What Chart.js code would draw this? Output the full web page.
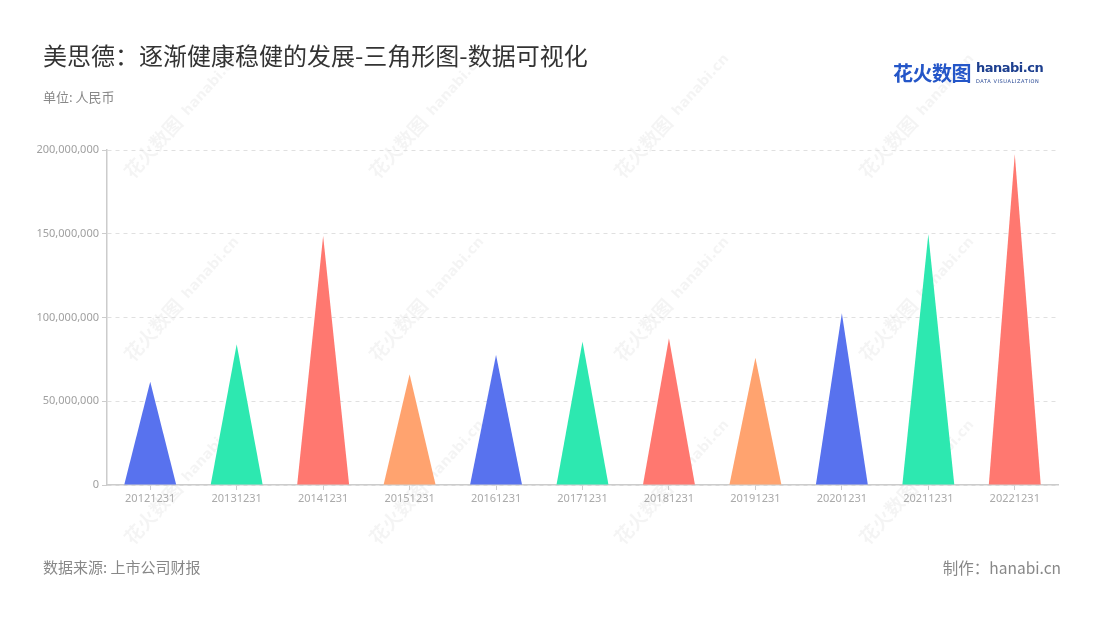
<!DOCTYPE html>
<html>
<head>
<meta charset="utf-8">
<script src="https://cdn.jsdelivr.net/npm/chart.js@4.4.0/dist/chart.umd.min.js"></script>
<style>
  html, body { margin: 0; padding: 0; background: #fff; }
  #wrap { position: relative; width: 1100px; height: 620px; font-family: "Noto Sans CJK SC", "Noto Sans", sans-serif; }
  #chart { position: absolute; left: 0; top: 0; }
  .txt { position: absolute; white-space: nowrap; }
  #title { left: 43px; top: 37px; font-size: 24px; color: #333; }
  #unit { left: 43px; top: 87px; font-size: 13px; color: #888; }
  #source { left: 43px; top: 556px; font-size: 15px; color: #888; }
  #maker { right: 39px; top: 556px; font-size: 15.5px; color: #888; }
  #logo { left: 893px; top: 58px; color: #2456c8; }
  #logo .cn { font-size: 20px; font-weight: bold; letter-spacing: -0.5px; }
  #logo .en { position: absolute; left: 83px; top: 2px; font-family: "DejaVu Sans", sans-serif; font-size: 13px; font-weight: bold; color: #1d3f8f; letter-spacing: -0.5px; }
  #logo .sub { position: absolute; left: 83px; top: 20px; font-family: "DejaVu Sans", sans-serif; font-size: 5px; color: #1d3f8f; letter-spacing: 0.6px; }
</style>
</head>
<body>
<div id="wrap">
  <canvas id="chart" width="1100" height="620"></canvas>
  <div class="txt" id="title">美思德：逐渐健康稳健的发展-三角形图-数据可视化</div>
  <div class="txt" id="unit">单位: 人民币</div>
  <div class="txt" id="logo"><span class="cn">花火数图</span><span class="en">hanabi.cn</span><span class="sub">DATA VISUALIZATION</span></div>
  <div class="txt" id="source">数据来源: 上市公司财报</div>
  <div class="txt" id="maker">制作：hanabi.cn</div>
</div>
<script>
const years = ['20121231', '20131231', '20141231', '20151231', '20161231', '20171231',
               '20181231', '20191231', '20201231', '20211231', '20221231'];
const revenue = [61700000, 84000000, 148700000, 66100000, 77600000, 85600000,
                 87600000, 76000000, 102500000, 149700000, 197400000];
const palette = ['#5872ee', '#2de8b0', '#ff7870', '#ffa36f'];
const yTicks = [0, 50000000, 100000000, 150000000, 200000000];

let barColors = years.map((y, i) => palette[i % palette.length]);

// watermark: faint rotated logo text behind the chart
const watermark = {
  id: 'watermark',
  beforeDraw(chart) {
    let ctx = chart.ctx;
    ctx.save();
    ctx.fillStyle = 'rgba(0,0,0,0.045)';
    for (let col = 0; col < 4; col++) {
      for (let row = 0; row < 3; row++) {
        ctx.save();
        ctx.translate(133 + col * 245, 180 + row * 183);
        ctx.rotate(-48 * Math.PI / 180);
        ctx.font = 'bold 19px "Noto Sans CJK SC"';
        ctx.fillText('花火数图', 0, 0);
        ctx.font = 'bold 14px "DejaVu Sans"';
        ctx.fillText('hanabi.cn', 84, -2);
        ctx.restore();
      }
    }
    ctx.restore();
  }
};

// draw each bar as a triangle with its base on the axis
const triangles = {
  id: 'triangles',
  beforeDatasetDraw(chart, args) {
    let ctx = chart.ctx;
    let meta = args.meta;
    ctx.save();
    meta.data.forEach((bar, i) => {
      let half = bar.width / 2;
      ctx.beginPath();
      ctx.moveTo(bar.x - half, bar.base);
      ctx.lineTo(bar.x, bar.y);
      ctx.lineTo(bar.x + half, bar.base);
      ctx.closePath();
      ctx.fillStyle = barColors[i];
      ctx.fill();
    });
    ctx.restore();
    return false;
  }
};

new Chart(document.getElementById('chart'), {
  type: 'bar',
  data: {
    labels: years,
    datasets: [{
      data: revenue,
      backgroundColor: barColors,
      barPercentage: 0.6,
      categoryPercentage: 1
    }]
  },
  options: {
    responsive: false,
    animation: false,
    layout: { padding: { left: 27, right: 42, top: 150, bottom: 105 } },
    plugins: {
      legend: { display: false },
      tooltip: { enabled: false }
    },
    scales: {
      x: {
        afterFit: (s) => { s.height = 30; },
        grid: { display: true, drawOnChartArea: false, offset: false, tickLength: 5, color: '#cccccc' },
        border: { color: '#cccccc', width: 1.5 },
        ticks: { color: '#aaaaaa', font: { size: 11, family: 'Noto Sans' }, padding: 2, maxRotation: 0 }
      },
      y: {
        min: 0,
        max: 200000000,
        afterFit: (s) => { s.width = 80; },
        afterBuildTicks: (s) => { s.ticks = yTicks.map(v => ({ value: v })); },
        grid: { color: '#e0e0e0', tickLength: 5, tickColor: '#cccccc', tickBorderDash: [] },
        border: { color: '#cccccc', width: 1.5, dash: [4, 4] },
        ticks: {
          color: '#a0a0a0',
          font: { size: 11, family: 'Noto Sans' },
          padding: 3,
          callback: (v) => v.toLocaleString('en-US')
        }
      }
    }
  },
  plugins: [watermark, triangles]
});
</script>
</body>
</html>
